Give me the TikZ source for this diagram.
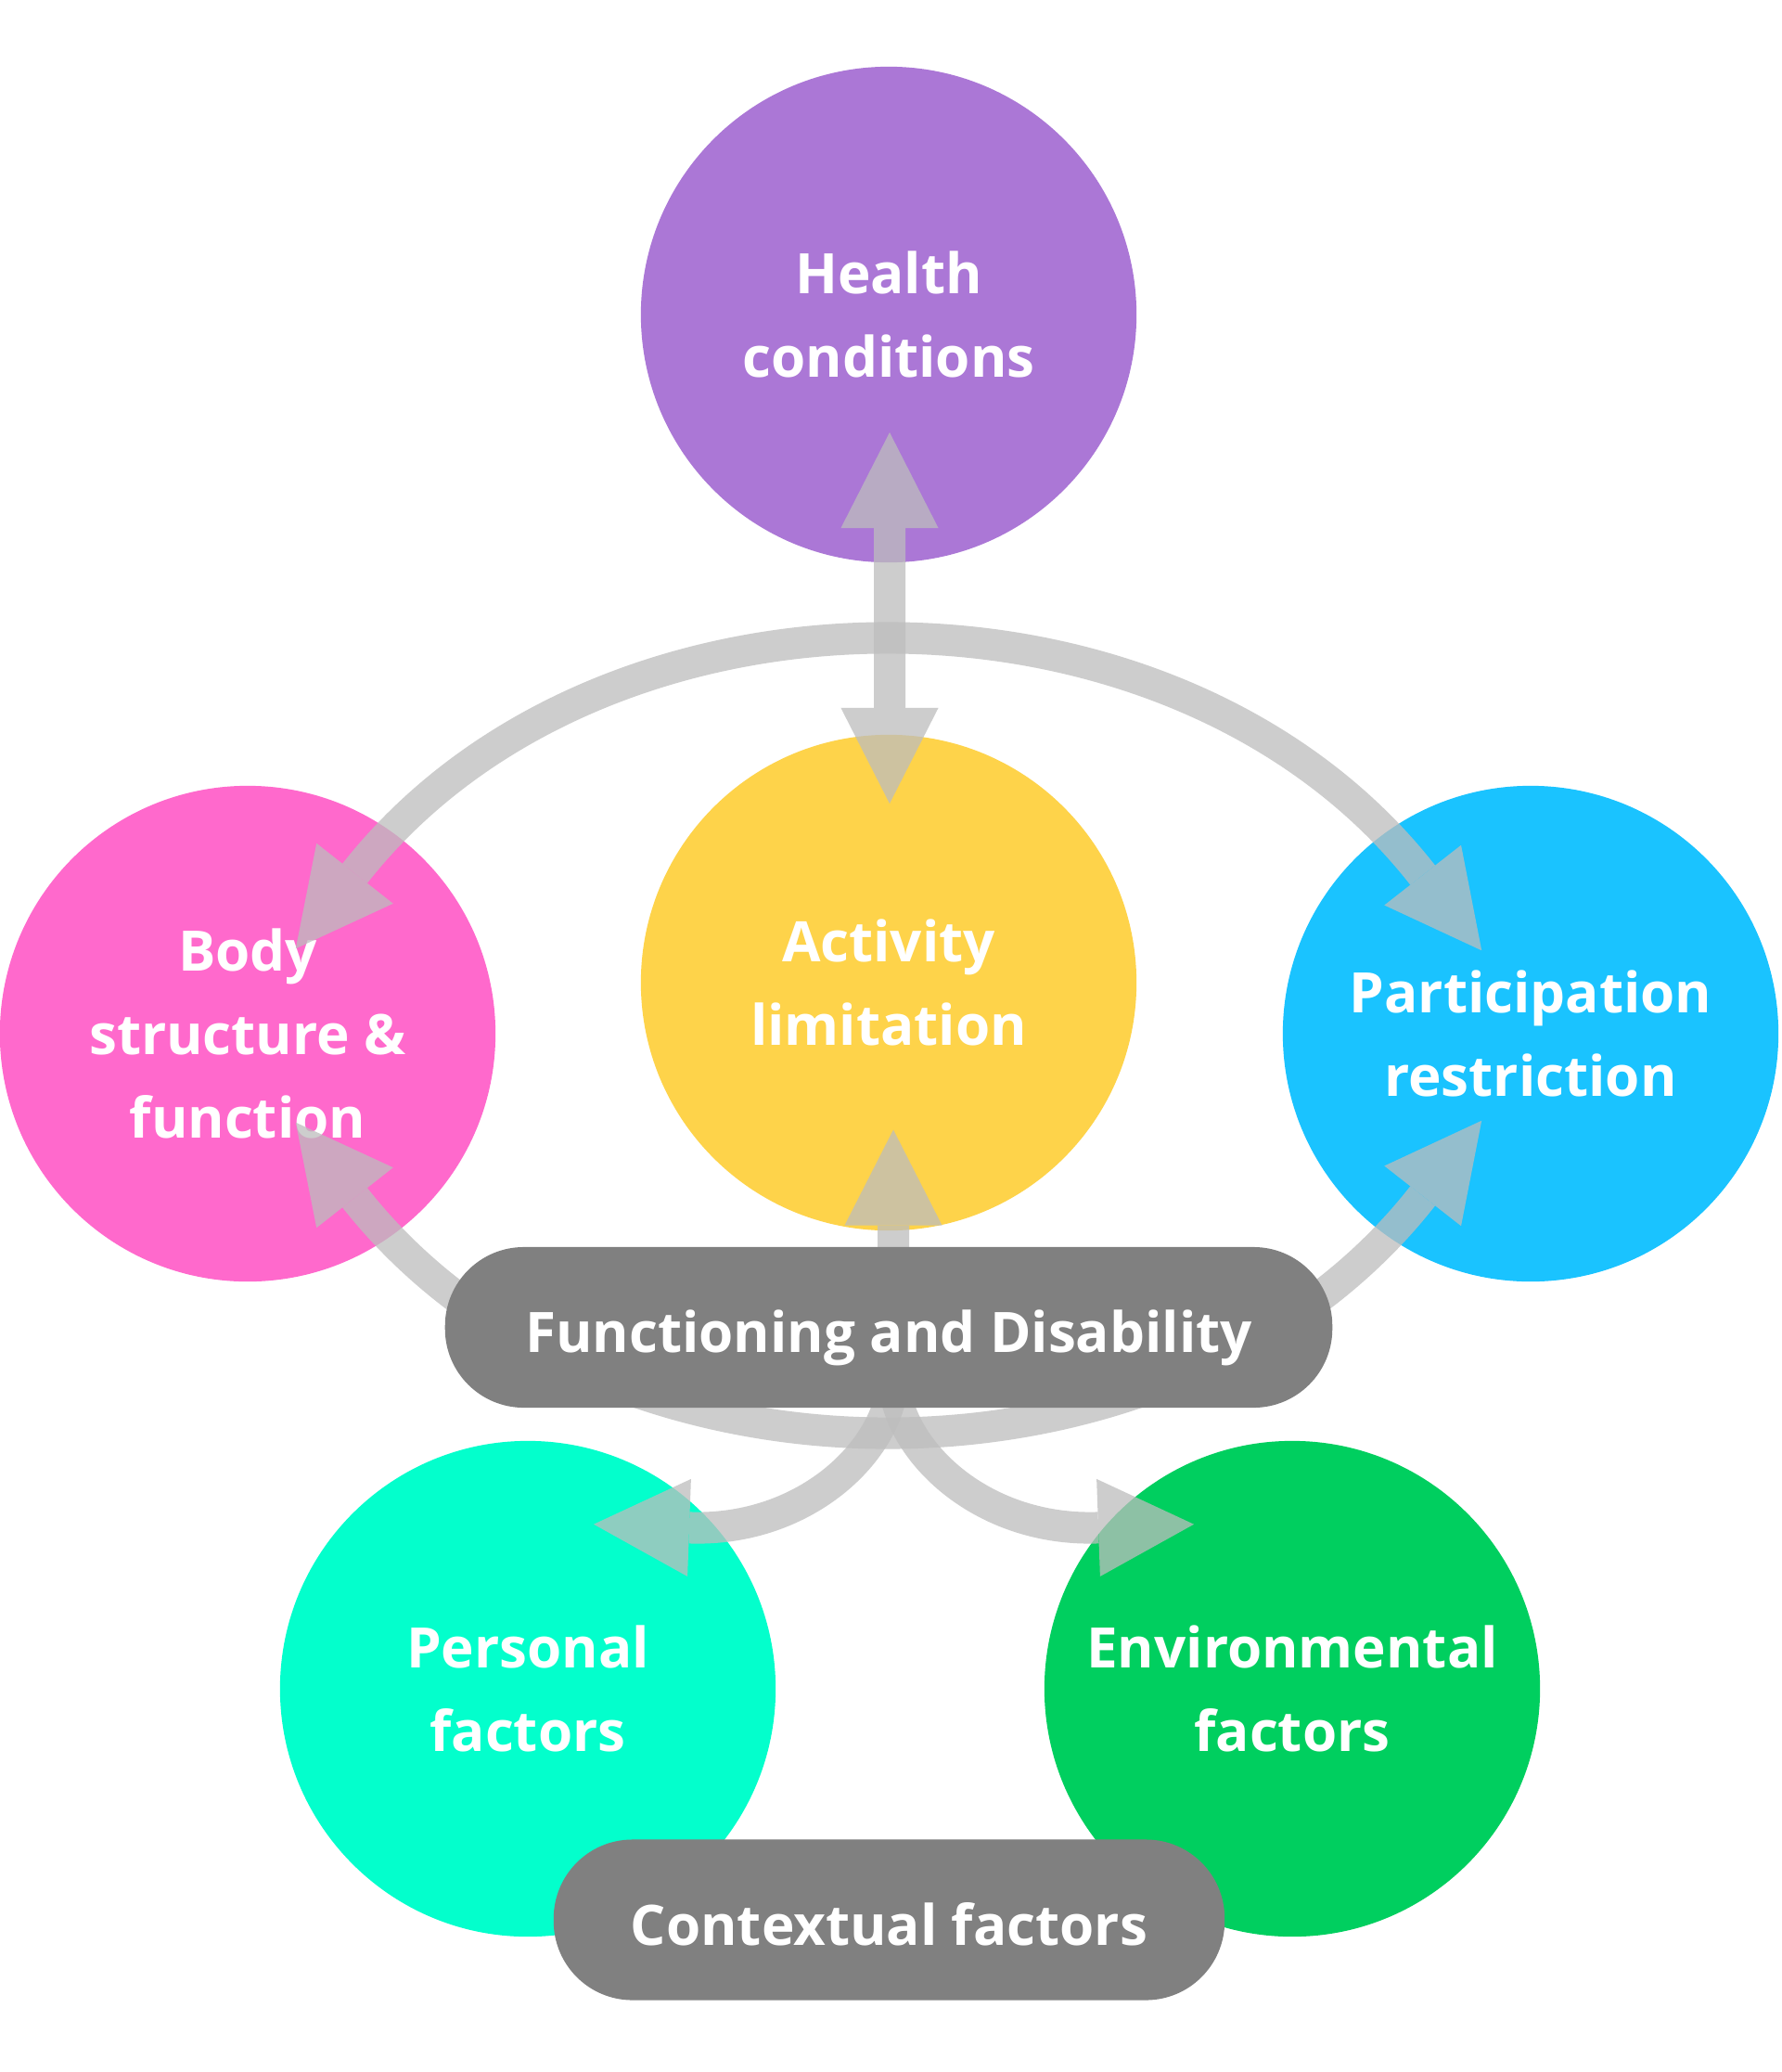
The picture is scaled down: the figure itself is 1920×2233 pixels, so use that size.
\documentclass[tikz,border=0pt]{standalone}
\usepackage{fontspec}
\newfontfamily\labelfont{Open Sans}
\usetikzlibrary{arrows.meta,calc}
\definecolor{hcol}{HTML}{AB77D6}
\definecolor{acol}{HTML}{FED34A}
\definecolor{bcol}{HTML}{FF69CC}
\definecolor{pcol}{HTML}{1AC3FF}
\definecolor{pfcol}{HTML}{03FFCC}
\definecolor{efcol}{HTML}{00CF5F}
\definecolor{boxgray}{HTML}{808080}
\definecolor{arrowgray}{RGB}{189,189,189}
\pgfdeclarelayer{circles}
\pgfdeclarelayer{links}
\pgfsetlayers{circles,links,main}
\tikzset{
  headtip/.tip={Triangle[length=1.03cm,width=1.05cm,line width=0pt]},
  labeltext/.style={text=white, font=\labelfont\bfseries\fontsize{17.1pt}{0.9cm}\selectfont},
  bubble/.style={circle, minimum size=5.34cm, inner sep=0pt, align=center, labeltext},
  pill/.style={rectangle, rounded corners=0.85cm, fill=boxgray, minimum height=1.73cm,
    inner sep=0pt, labeltext, text height=0.54cm, text depth=0pt},
  link/.style={draw=arrowgray, line width=0.34cm, -headtip},
  dbllink/.style={draw=arrowgray, line width=0.34cm, headtip-headtip},
  linkgroup/.style={transparency group, opacity=0.75}
}
\begin{document}
\begin{tikzpicture}[x=0.01cm,y=-0.01cm]
\useasboundingbox (0,0) rectangle (1920,2233);
\begin{pgfonlayer}{circles}
  \fill[white] (0,0) rectangle (1920,2233);
  \node[bubble, fill=hcol]  (hc) at (958,339)   {Health\\conditions};
  \node[bubble, fill=acol]  (al) at (958,1059)  {Activity\\limitation};
  \node[bubble, fill=bcol]  (bs) at (267,1114)  {Body\\structure \&\\function};
  \node[bubble, fill=pcol]  (pr) at (1650,1114) {Participation\\restriction};
  \node[bubble, fill=pfcol] (pf) at (569,1820)  {Personal\\factors};
  \node[bubble, fill=efcol] (ef) at (1393,1820) {Environmental\\factors};
\end{pgfonlayer}
\node[pill, minimum width=9.56cm] (fd) at (958,1430.5) {Functioning and Disability};
\node[pill, minimum width=7.23cm] (ctx) at (958.5,2069) {Contextual factors};
\begin{pgfonlayer}{links}
  \begin{scope}[linkgroup]
    \draw[dbllink] ($(hc.center)+(1,127)$) -- ($(al.center)+(1,-193)$);
  \end{scope}
  \begin{scope}[linkgroup]
    \draw[dbllink] ($(bs.center)+(51.8,-91.7)$) .. controls (649,602.5) and (1267,602.5) .. ($(pr.center)+(-52.8,-89.7)$);
  \end{scope}
  \begin{scope}[linkgroup]
    \draw[dbllink] ($(bs.center)+(51.8,95.7)$) .. controls (649,1629.5) and (1267,1629.5) .. ($(pr.center)+(-52.8,93.7)$);
  \end{scope}
  \begin{scope}[linkgroup]
    \draw[link] ($(fd.center)+(5,0)$) -- ($(al.center)+(5,158.5)$);
  \end{scope}
  \begin{scope}[linkgroup]
    \draw[link] ($(fd.center)+(5,0)$) -- ($(fd.center)+(5,50)$) .. controls (963,1560) and (870,1651) .. ($(pf.center)+(71,-177.3)$);
  \end{scope}
  \begin{scope}[linkgroup]
    \draw[link] ($(fd.center)+(5,0)$) -- ($(fd.center)+(5,50)$) .. controls (963,1560) and (1056,1651) .. ($(ef.center)+(-106,-177.3)$);
  \end{scope}
\end{pgfonlayer}
\end{tikzpicture}
\end{document}
